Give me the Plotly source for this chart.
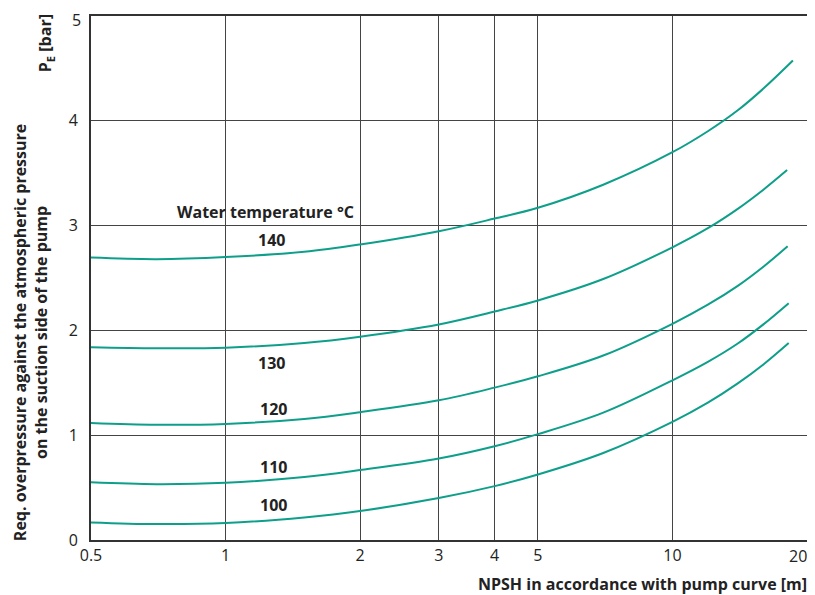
import plotly.graph_objects as go
import math

# Data
temps = ["140", "130", "120", "110", "100"]
x140 = [0.5, 0.7, 1, 1.5, 2, 3, 4, 5, 7, 10, 12, 14, 16, 18.6]
y140 = [2.695, 2.68, 2.70, 2.75, 2.82, 2.946, 3.067, 3.17, 3.39, 3.70, 3.90, 4.10, 4.31, 4.575]
x130 = [0.5, 0.7, 1, 1.5, 2, 3, 4, 5, 7, 10, 12, 14, 16, 18.05]
y130 = [1.84, 1.83, 1.835, 1.88, 1.94, 2.057, 2.18, 2.286, 2.49, 2.793, 2.975, 3.16, 3.345, 3.53]
x120 = [0.5, 0.7, 1, 1.5, 2, 3, 4, 5, 7, 10, 12, 14, 16, 18.1]
y120 = [1.117, 1.10, 1.108, 1.155, 1.22, 1.333, 1.454, 1.562, 1.76, 2.063, 2.245, 2.425, 2.61, 2.803]
x110 = [0.5, 0.7, 1, 1.5, 2, 3, 4, 5, 7, 10, 12, 14, 16, 18.2]
y110 = [0.55, 0.533, 0.546, 0.60, 0.667, 0.778, 0.895, 1.01, 1.215, 1.524, 1.70, 1.875, 2.06, 2.26]
x100 = [0.5, 0.7, 1, 1.5, 2, 3, 4, 5, 7, 10, 12, 14, 16, 18.2]
y100 = [0.168, 0.152, 0.162, 0.215, 0.276, 0.40, 0.514, 0.625, 0.83, 1.127, 1.31, 1.494, 1.677, 1.879]

x_ticks = [0.5, 1, 2, 3, 4, 5, 10, 20]
x_ticktext = ["0.5", "1", "2", "3", "4", "5", "10", ""]
y_ticks = [0, 1, 2, 3, 4, 5]
y_ticktext = ["0", "1", "2", "3", "4", ""]

# label positions (NPSH, bar)
label_x = [1.27, 1.27, 1.28, 1.28, 1.28]
label_y = [2.867, 1.686, 1.248, 0.695, 0.333]

series = [(x140, y140), (x130, y130), (x120, y120), (x110, y110), (x100, y100)]

LINE = "#0e9f8a"
TXT = "#222222"
FONT = "Open Sans"

fig = go.Figure()
for (xs, ys), t in zip(series, temps):
    fig.add_trace(go.Scatter(x=xs, y=ys, mode="lines", name=t,
                             line=dict(color=LINE, width=2, shape="spline", smoothing=1.0),
                             hoverinfo="x+y", showlegend=False))

ann = []
for t, lx, ly in zip(temps, label_x, label_y):
    ann.append(dict(x=math.log10(lx), y=ly, text="<b>" + t + "</b>", showarrow=False,
                    font=dict(family=FONT, size=16, color=TXT), xanchor="center", yanchor="middle"))
ann.append(dict(x=math.log10(1.23), y=3.13, text="<b>Water temperature °C</b>", showarrow=False,
                font=dict(family=FONT, size=16, color=TXT), xanchor="center", yanchor="middle"))
ann.append(dict(x=1.0, y=0, xref="paper", yref="paper", yshift=-3, xshift=2, text="20", showarrow=False,
                font=dict(family=FONT, size=16, color=TXT), xanchor="right", yanchor="top"))
ann.append(dict(x=0, y=1, xref="paper", yref="paper", xshift=-9, yshift=8, text="5", showarrow=False,
                borderpad=0, font=dict(family=FONT, size=16, color=TXT), xanchor="right", yanchor="top"))
ann.append(dict(x=1.0, y=0, xref="paper", yref="paper", yshift=-31, xshift=2,
                text="<b>NPSH in accordance with pump curve [m]</b>", showarrow=False,
                font=dict(family=FONT, size=16, color=TXT), xanchor="right", yanchor="top"))
ann.append(dict(x=-0.064, y=1.0, xref="paper", yref="paper", yshift=4,
                text="<b>P<sub>E</sub> [bar]</b>", showarrow=False, textangle=-90,
                font=dict(family=FONT, size=16, color=TXT), xanchor="center", yanchor="top"))
ann.append(dict(x=-0.085, y=0.395, xref="paper", yref="paper",
                text="<b>Req. overpressure against the atmospheric pressure<br>on the suction side of the pump</b>",
                showarrow=False, textangle=-90,
                font=dict(family=FONT, size=16, color=TXT), xanchor="center", yanchor="middle"))

# page body has an 8px default margin, so the figure is sized and margined to compensate
fig.update_layout(
    width=807, height=587,
    margin=dict(l=83, r=8, t=8, b=55),
    paper_bgcolor="white", plot_bgcolor="white",
    annotations=ann,
    font=dict(family=FONT, color=TXT),
)
fig.update_xaxes(type="log", range=[math.log10(0.5), math.log10(20)],
                 tickvals=x_ticks, ticktext=x_ticktext, automargin=False,
                 tickfont=dict(family=FONT, size=16, color=TXT),
                 showgrid=True, gridcolor="#444444", gridwidth=1,
                 showline=True, linecolor="#333333", linewidth=2, mirror=True,
                 ticks="", zeroline=False)
fig.update_yaxes(range=[0, 5], tickvals=y_ticks, ticktext=y_ticktext, automargin=False,
                 tickfont=dict(family=FONT, size=16, color=TXT),
                 showgrid=True, gridcolor="#444444", gridwidth=1,
                 showline=True, linecolor="#333333", linewidth=2, mirror=True,
                 ticks="", zeroline=False, ticklabelstandoff=8)

fig.write_html("out.html")
